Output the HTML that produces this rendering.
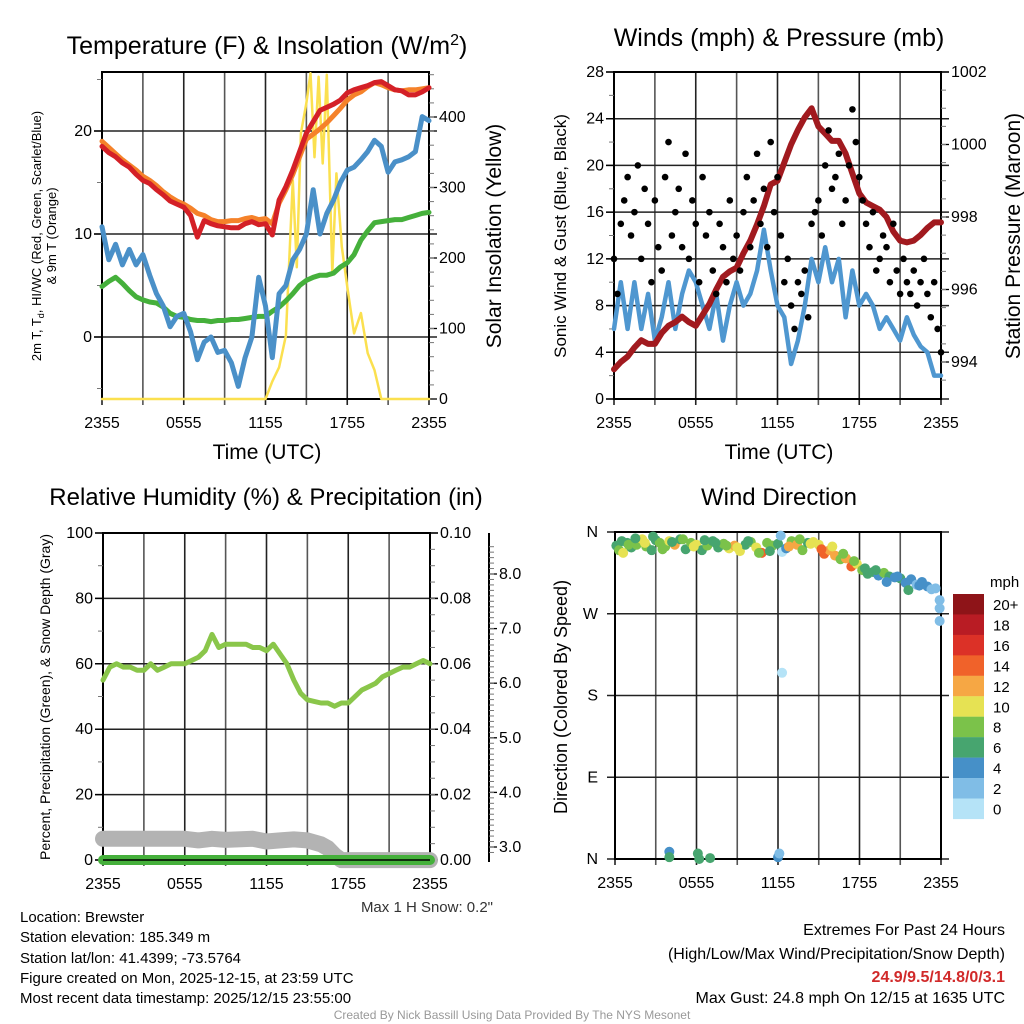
<!DOCTYPE html>
<html><head><meta charset="utf-8"><style>
body{margin:0;background:#fff}
svg{display:block;font-family:"Liberation Sans",Arial,sans-serif}
</style></head><body>
<svg id="c" width="1024" height="1024" viewBox="0 0 1024 1024">
<g id="g1"></g>
<g id="g2"></g>
<g id="g3"></g>
<g id="g4"></g>
<text x="267" y="54" font-size="25" text-anchor="middle">Temperature (F) &amp; Insolation (W/m<tspan dy="-9" font-size="16">2</tspan><tspan dy="9">)</tspan></text>
<text x="779" y="46" font-size="25" text-anchor="middle">Winds (mph) &amp; Pressure (mb)</text>
<text x="266" y="505" font-size="24" text-anchor="middle">Relative Humidity (%) &amp; Precipitation (in)</text>
<text x="779" y="505" font-size="24" text-anchor="middle">Wind Direction</text>
<text x="267" y="459" font-size="21" text-anchor="middle">Time (UTC)</text>
<text x="779" y="459" font-size="21" text-anchor="middle">Time (UTC)</text>
<text transform="translate(41,236) rotate(-90)" font-size="13" text-anchor="middle">2m T, T<tspan font-size="9" dy="3">d</tspan><tspan dy="-3">, HI/WC (Red, Green, Scarlet/Blue)</tspan></text>
<text transform="translate(56,236) rotate(-90)" font-size="13" text-anchor="middle">&amp; 9m T (Orange)</text>
<text transform="translate(501,236) rotate(-90)" font-size="21" text-anchor="middle">Solar Insolation (Yellow)</text>
<text transform="translate(566,236) rotate(-90)" font-size="17" text-anchor="middle">Sonic Wind &amp; Gust (Blue, Black)</text>
<text transform="translate(1020,236) rotate(-90)" font-size="21" text-anchor="middle">Station Pressure (Maroon)</text>
<text transform="translate(50,697) rotate(-90)" font-size="14" text-anchor="middle">Percent, Precipitation (Green), &amp; Snow Depth (Gray)</text>
<text transform="translate(567,697) rotate(-90)" font-size="18" text-anchor="middle">Direction (Colored By Speed)</text>
<text x="493" y="912" font-size="15" text-anchor="end" fill="#333">Max 1 H Snow: 0.2"</text>
<g font-size="15">
<text x="20" y="922">Location: Brewster</text>
<text x="20" y="942">Station elevation: 185.349 m</text>
<text x="20" y="963">Station lat/lon: 41.4399; -73.5764</text>
<text x="20" y="983">Figure created on Mon, 2025-12-15, at 23:59 UTC</text>
<text x="20" y="1003">Most recent data timestamp: 2025/12/15 23:55:00</text>
</g>
<g font-size="16" text-anchor="end">
<text x="1005" y="935">Extremes For Past 24 Hours</text>
<text x="1005" y="959">(High/Low/Max Wind/Precipitation/Snow Depth)</text>
<text x="1005" y="982" fill="#d12a2a" font-weight="bold">24.9/9.5/14.8/0/3.1</text>
<text x="1005" y="1003">Max Gust: 24.8 mph On 12/15 at 1635 UTC</text>
</g>
<text x="512" y="1019" font-size="12" fill="#999" text-anchor="middle">Created By Nick Bassill Using Data Provided By The NYS Mesonet</text>
</svg>
<script>
const xTickLabels=["2355","0555","1155","1755","2355"];
const halfHours=[0,0.5,1,1.5,2,2.5,3,3.5,4,4.5,5,5.5,6,6.5,7,7.5,8,8.5,9,9.5,10,10.5,11,11.5,12,12.5,13,13.5,14,14.5,15,15.5,16,16.5,17,17.5,18,18.5,19,19.5,20,20.5,21,21.5,22,22.5,23,23.5,24];
const tempRed=[18.5,17.9,17.5,16.9,16.5,15.8,15.2,14.9,14.3,13.8,13.2,12.9,12.6,11.8,9.7,11.3,11.0,10.8,10.7,10.6,10.6,11.0,11.2,10.9,11.0,9.9,13.3,14.6,16.2,18.0,19.8,20.9,22.0,22.3,22.6,23.0,23.7,24.0,24.2,24.4,24.7,24.8,24.4,24.0,23.9,23.5,23.5,23.8,24.2];
const tempOrange=[19.0,18.4,17.8,17.2,16.7,16.2,15.6,15.2,14.7,14.1,13.6,13.2,12.9,12.5,12.0,11.8,11.4,11.2,11.2,11.3,11.3,11.5,11.6,11.4,11.5,11.0,13.0,14.3,15.8,17.5,19.2,19.7,20.2,20.8,21.5,22.2,23.0,23.5,23.8,24.3,24.7,24.5,24.2,24.0,23.9,24.0,24.0,24.1,24.2];
const tempBlue=[10.7,7.5,9.0,7.0,8.5,7.0,8.0,6.0,4.2,3.0,1.0,2.0,2.3,0.5,-2.2,-0.5,0.0,-1.5,-1.3,-2.5,-4.8,-2.0,0.0,5.8,3.0,-2.0,4.2,5.0,7.5,8.5,10.0,14.3,10.0,12.0,13.3,15.0,16.2,16.5,17.2,18.0,19.1,18.5,16.0,17.0,17.2,17.5,18.0,21.4,21.0];
const tempGreen=[4.9,5.4,5.8,5.2,4.5,3.9,3.6,3.4,3.3,2.9,2.3,2.0,1.9,1.7,1.6,1.6,1.5,1.6,1.6,1.7,1.7,1.8,1.9,2.0,2.0,2.5,2.9,3.5,4.2,5.0,5.5,5.8,6.0,6.0,6.2,6.8,7.2,8.0,9.4,10.3,11.1,11.2,11.3,11.4,11.4,11.6,11.8,12.0,12.1];
const solarHours=[0,12,12.5,13,13.5,14,14.3,14.6,15,15.3,15.6,15.9,16.2,16.5,16.9,17.2,17.6,18,18.5,19,19.5,20,20.5,24];
const solarValues=[0,0,25,45,90,310,187,377,420,462,343,457,334,460,178,320,216,159,93,122,65,41,0,0];
const windSonic=[6,10,6,10,6,9,5,7,10,6,9,11,10,8,6,9,5,8,10,8,9,11,14.5,11,8,7,3,5,8,12,10,13,10,12,7,11,8,9,8,6,7,6,5,7,5.5,4.5,4,2,2];
const pressure=[993.8,994,994.15,994.4,994.6,994.5,994.5,994.8,995,995.1,995.25,995.1,995,995.3,995.6,996,996.35,996.5,996.6,997,997.35,997.8,998.3,998.9,999,999.5,1000,1000.4,1000.75,1001,1000.5,1000.3,1000.1,1000.1,999.75,999.2,998.65,998.4,998.3,998.2,998,997.6,997.35,997.3,997.35,997.5,997.7,997.85,997.85];
const gusts=[12,9,15,17,19,14,16,20,12,18,15,10,17,13,11,19,22,14,16,18,13,21,12,17,15,10,19,14,16,11,9,15,13,10,17,12,14,11,16,19,13,17,21,15,18,13,22,16,19,14,10,12,8,6,10,9,11,7,15,16,17,14,20,23,18,19,21,15,17,20,24.8,22,19,17,15,13,16,11,12,14,13,10,15,11,9,12,10,9,11,8,10,12,9,7,10,6,4];
const rh=[55,59,60,59,59,58,58,60,58,59,60,60,60,61,62,64,69,65,66,66,66,66,65,65,64,66,63,60,55,51,49,48.5,48,48,47,48,48,50,52,53,54,56,57,58,59,59,60,61,60];
const snowHours=[0,6,7,8,9,11,12,13,14,15,16,16.5,17,17.5,18,24];
const snowDepth=[3.15,3.15,3.12,3.15,3.13,3.15,3.1,3.12,3.14,3.12,3.05,2.98,2.85,2.76,2.76,2.76];
const dirHours=[0.1,0.3,0.6,0.9,1.2,1.6,2.0,2.3,2.7,3.0,3.3,3.7,4.0,4.4,4.8,5.2,5.6,6.0,6.4,6.8,7.2,7.6,8.0,8.4,8.8,9.2,9.6,10.0,10.4,10.8,11.2,11.6,12.0,12.3,12.6,13.0,13.4,13.8,14.2,14.6,15.0,15.4,15.8,16.2,16.6,17.0,17.4,17.8,18.2,18.6,19.0,19.4,19.8,20.2,20.6,21.0,21.4,21.8,22.2,22.6,23.0,23.3,23.6,23.9,23.9,23.9,4.0,4.0,6.1,6.2,7.0,12.0,12.1,12.3,12.2,0.5,1.0,1.5,2.2,2.8,3.5,4.2,5.0,5.8,6.6,7.4,8.2,9.0,9.8,10.6,11.4,12.8,13.6,14.4,15.2,16.0,16.8,17.6,18.4,19.2,20.0,20.8,21.6,22.4];
const dirValues=[345,340,337,348,343,346,352,344,340,351,348,344,350,346,352,341,348,346,340,345,350,343,347,342,345,339,346,349,343,337,348,345,347,338,342,350,346,340,348,349,346,336,340,334,330,331,322,325,318,314,316,312,315,311,310,309,304,308,302,305,300,297,298,285,276,262,8,2,6,0,1,2,6,205,356,350,346,353,348,355,341,349,352,344,351,348,345,343,350,337,339,344,352,347,341,344,336,328,320,318,305,311,296,301];
const dirSpeeds=[6,8,10,7,6,9,10,8,6,7,9,8,10,12,7,6,8,10,6,8,7,6,9,10,12,11,6,8,10,14,8,9,6,1,5,8,12,9,7,10,11,15,13,12,9,12,14,10,8,6,7,5,8,6,4,6,5,4,3,4,5,3,3,2,2,2,5,6,6,6,6,4,3,1,3,7,8,6,10,7,9,6,8,11,7,6,8,10,7,9,6,12,8,10,14,11,9,8,6,7,5,4,6,4];
const speedBins=["20+","18","16","14","12","10","8","6","4","2","0"];
const speedColors=["#8e1418","#b91c24","#dc3127","#f0622a","#f6a744","#e6e253","#7bc24a","#47a56f","#4690c8","#80bde6","#b5e3f7"];
</script>
<script>
const NS="http://www.w3.org/2000/svg";
function mk(parent,tag,attrs,txt){const e=document.createElementNS(NS,tag);for(const k in attrs)e.setAttribute(k,attrs[k]);if(txt!==undefined)e.textContent=txt;parent.appendChild(e);return e;}
function scale(d0,d1,r0,r1){return v=>r0+(v-d0)*(r1-r0)/(d1-d0);}
function frame(g,x0,x1,y0,y1,xs,hLines){
  for(let h=0;h<=24;h+=3){const x=xs(h);const l=mk(g,'line',{x1:x,x2:x,y1:y0,y2:y1+6,stroke:h%6===0?'#222':'#555','stroke-width':1.6});}
  hLines.forEach(y=>{const l=mk(g,'line',{x1:x0-8,x2:x1+8,y1:y,y2:y,stroke:'#222','stroke-width':1.5});});
  const r=mk(g,'rect',{x:x0,y:y0,width:x1-x0,height:y1-y0,fill:'none',stroke:'#000','stroke-width':2});
  xTickLabels.forEach((t,i)=>{const tx=mk(g,'text',{x:xs(i*6),y:y1+29,'font-size':16,'text-anchor':'middle'},t);});
}
function ticks(g,x,ys,vals,labels,side,minor){
  vals.forEach((v,i)=>{const y=ys(v);mk(g,'line',{x1:x,x2:x+(side<0?-8:8),y1:y,y2:y,stroke:'#000','stroke-width':1.3});
   if(labels[i]!==''){const t=mk(g,'text',{x:x+(side<0?-10:10),y:y+5,'font-size':16,'text-anchor':side<0?'end':'start'},labels[i]);}});
  (minor||[]).forEach(v=>{const y=ys(v);mk(g,'line',{x1:x,x2:x+(side<0?-5:5),y1:y,y2:y,stroke:'#777','stroke-width':1});});
}
function path(g,xsArr,ysArr,xs,ys,color,w,name){
  const d=xsArr.map((h,i)=>(i?'L':'M')+xs(h).toFixed(1)+','+ys(ysArr[i]).toFixed(1)).join('');
  const p=mk(g,'path',{d:d,fill:'none',stroke:color,'stroke-width':w,'stroke-linejoin':'round','stroke-linecap':'round'});
  
  
  return p;
}
function range(a,b,s){const r=[];for(let v=a;v<=b+1e-9;v+=s)r.push(+v.toFixed(4));return r;}

// Panel 1
(function(){
 const g=document.getElementById('g1');
 const xs=scale(0,24,102,429), ys=scale(0,10,337,234), yr=scale(0,400,399,117);
 frame(g,102,429,72,399,xs,[ys(0),ys(10),ys(20)]);
 ticks(g,102,ys,[0,10,20],['0','10','20'],-1,[-5,5,15,25]);
 ticks(g,429,yr,[0,100,200,300,400],['0','100','200','300','400'],1,range(20,460,20));
 path(g,solarHours,solarValues,xs,yr,'#fbe04f',2.5,'solar-insolation-line');
 path(g,halfHours,tempGreen,xs,ys,'#45b03b',5,'wind-chill-line');
 path(g,halfHours,tempBlue,xs,ys,'#4a90c8',5,'dewpoint-line');
 path(g,halfHours,tempOrange,xs,ys,'#f5822a',5,'temp-9m-line');
 path(g,halfHours,tempRed,xs,ys,'#d42027',5,'temp-2m-line');
})();
// Panel 2
(function(){
 const g=document.getElementById('g2');
 const xs=scale(0,24,614,941), ys=scale(0,28,399,72), yp=scale(994,1002,362,72);
 frame(g,614,941,72,399,xs,range(0,28,4).map(ys));
 ticks(g,614,ys,range(0,28,4),range(0,28,4).map(String),-1,range(2,26,4));
 ticks(g,941,yp,[994,996,998,1000,1002],['994','996','998','1000','1002'],1,range(993.5,1001.5,0.5));
 path(g,halfHours,windSonic,xs,ys,'#4f97d0',4.5,'sonic-wind-line');
 path(g,halfHours,pressure,xs,yp,'#a11a1f',6,'pressure-line');
 gusts.forEach((v,i)=>{const c=mk(g,'circle',{cx:xs(i*24/(gusts.length-1)),cy:ys(v),r:3.3,fill:'#000'});
  
  });
})();
// Panel 3
(function(){
 const g=document.getElementById('g3');
 const xs=scale(0,24,103,430), ys=scale(0,100,860,533), yp=scale(0,0.1,860,533), ysn=scale(3,8,847,574);
 frame(g,103,430,533,860,xs,range(0,100,20).map(ys));
 ticks(g,103,ys,range(0,100,20),range(0,100,20).map(String),-1,range(10,90,20));
 ticks(g,430,yp,range(0,0.1,0.02),['0.00','0.02','0.04','0.06','0.08','0.10'],1,range(0.005,0.095,0.005));
 mk(g,'line',{x1:489,x2:489,y1:533,y2:862,stroke:'#000','stroke-width':2});
 ticks(g,489,ysn,[3,4,5,6,7,8],['3.0','4.0','5.0','6.0','7.0','8.0'],1,range(2.9,8.5,0.1));
 path(g,snowHours,snowDepth,xs,ysn,'#b3b3b3',16,'snow-depth-line');
 const z=mk(g,'line',{x1:xs(0),x2:xs(24),y1:yp(0),y2:yp(0),stroke:'#45b03b','stroke-width':10,'stroke-linecap':'round'});
 
 mk(g,'line',{x1:103,x2:430,y1:860,y2:860,stroke:'#000','stroke-width':1.5});
 path(g,halfHours,rh,xs,ys,'#8ac64a',5,'humidity-line');
})();
// Panel 4
(function(){
 const g=document.getElementById('g4');
 const xs=scale(0,24,615,941), ys=scale(0,360,859,532);
 frame(g,615,941,532,859,xs,[0,90,180,270,360].map(ys));
 ['N','E','S','W','N'].forEach((t,i)=>{const tx=mk(g,'text',{x:598,y:ys(i*90)+5,'font-size':16,'text-anchor':'end'},t);});
 const n=Math.min(dirHours.length,dirValues.length,dirSpeeds.length);
 for(let i=0;i<n;i++){const h=dirHours[i];const s=dirSpeeds[i];const bin=Math.min(10,Math.max(0,10-Math.floor(s/2)));
  const c=mk(g,'circle',{cx:xs(h),cy:ys(dirValues[i]),r:5,fill:speedColors[bin]});
  
  }
 const t=mk(g,'text',{x:990,y:587,'font-size':15},'mph');
 speedBins.forEach((lab,i)=>{const y=594+i*20.45;
  const r=mk(g,'rect',{x:953,y:y,width:31,height:20.6,fill:speedColors[i]});
  
  
  const tx=mk(g,'text',{x:993,y:y+16,'font-size':15},lab);
  
  });
})();
</script>
</body></html>
